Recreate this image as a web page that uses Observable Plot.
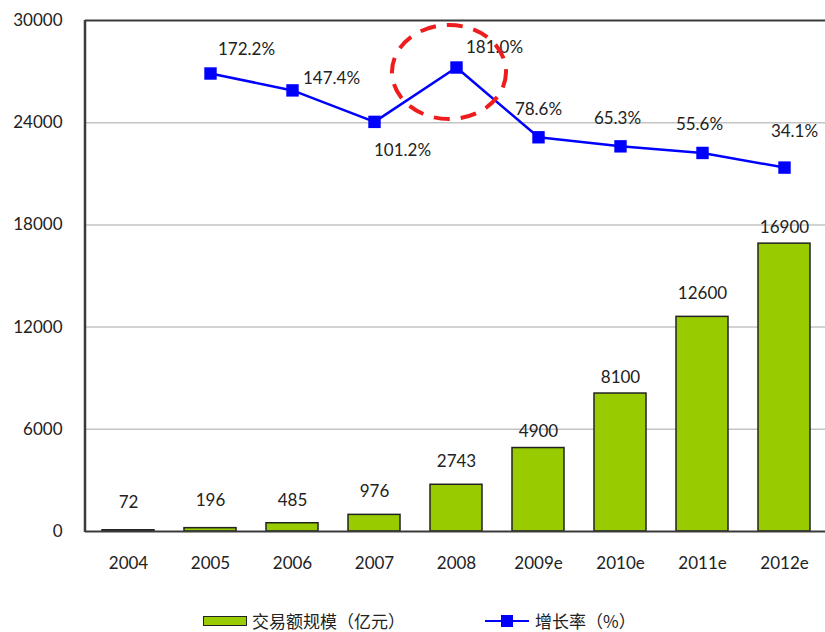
<!DOCTYPE html>
<html>
<head>
<meta charset="utf-8">
<script src="https://cdn.jsdelivr.net/npm/d3@7"></script>
<script src="https://cdn.jsdelivr.net/npm/@observablehq/plot@0.6"></script>
<style>
  html, body { margin: 0; padding: 0; background: #fff; }
  #wrap { position: relative; width: 825px; height: 632px; overflow: hidden; font-family: Lato, "Liberation Sans", sans-serif; color: #222; }
  #legend .txt { position: absolute; font-family: "Noto Sans CJK SC", sans-serif; font-size: 17px; line-height: 20px; color: #222; }
</style>
</head>
<body>
<div id="wrap">
  <div id="chart"></div>
  <div id="legend">
    <div style="position:absolute;left:203px;top:616px;width:42px;height:8px;background:#99cc00;border:1.5px solid #222;"></div>
    <div class="txt" style="left:252px;top:611px;">交易额规模（亿元）</div>
    <svg style="position:absolute;left:483px;top:612px;" width="48" height="18">
      <line x1="2" y1="9" x2="46" y2="9" stroke="#0000ff" stroke-width="2"/>
      <rect x="18" y="3" width="12" height="12" fill="#0000ff"/>
    </svg>
    <div class="txt" style="left:535px;top:611px;">增长率（%）</div>
  </div>
</div>
<script>
// ---- data ----
const years = ["2004", "2005", "2006", "2007", "2008", "2009e", "2010e", "2011e", "2012e"];
const volume = [72, 196, 485, 976, 2743, 4900, 8100, 12600, 16900];
const rateYears = ["2005", "2006", "2007", "2008", "2009e", "2010e", "2011e", "2012e"];
const growth = [172.2, 147.4, 101.2, 181.0, 78.6, 65.3, 55.6, 34.1];
const yTicks = [0, 6000, 12000, 18000, 24000, 30000];
const rateAxisDomain = [-500, 250]; // hidden secondary axis

const bars = years.map((year, i) => ({year, value: volume[i]}));
const rates = rateYears.map((year, i) => ({year, rate: growth[i]}));

const yMax = 30000;
const toLeft = v => (v - rateAxisDomain[0]) / (rateAxisDomain[1] - rateAxisDomain[0]) * yMax;

// label placement (layout only)
const barLabelGroups = [
  {set: ["2004", "2005"], dy: -28},
  {set: ["2006", "2007", "2008", "2011e"], dy: -23},
  {set: ["2009e", "2010e", "2012e"], dy: -16}
];
const rateLabelGroups = [
  {set: ["2005"], dx: 36, dy: -24},
  {set: ["2006"], dx: 39, dy: -12},
  {set: ["2007"], dx: 28, dy: 29},
  {set: ["2008"], dx: 38, dy: -20},
  {set: ["2009e"], dx: 0, dy: -28},
  {set: ["2010e", "2011e"], dx: -3, dy: -28},
  {set: ["2012e"], dx: 10, dy: -36}
];

const fontSize = 17;

const plot = Plot.plot({
  width: 825,
  height: 600,
  marginTop: 20,
  marginBottom: 69,
  marginLeft: 85,
  marginRight: 0,
  style: {fontFamily: "Lato, 'Liberation Sans', sans-serif", fontSize: fontSize + "px", color: "#222", background: "#fff"},
  x: {domain: years, range: [84, 827], paddingInner: 0.37, paddingOuter: 0.185, label: null},
  y: {domain: [0, yMax], range: [531, 20], label: null},
  marks: [
    Plot.ruleY(yTicks.filter(t => t > 0 && t < yMax), {stroke: "#c4c4c4", strokeWidth: 1.5}),
    Plot.barY(bars, {x: "year", y: "value", fill: "#99cc00", stroke: "#222", strokeWidth: 1.5}),
    ...barLabelGroups.map(g => Plot.text(bars.filter(d => g.set.includes(d.year)), {
      x: "year", y: "value", text: d => String(d.value), dy: g.dy, fontSize, fill: "#222"
    })),
    Plot.ruleY([0, yMax], {stroke: "#3a3a3a", strokeWidth: 2}),
    Plot.line(rates, {x: "year", y: d => toLeft(d.rate), stroke: "#0000ff", strokeWidth: 2.5}),
    Plot.dot(rates, {x: "year", y: d => toLeft(d.rate), symbol: "square", r: 7, fill: "#0000ff", stroke: "none"}),
    ...rateLabelGroups.map(g => Plot.text(rates.filter(d => g.set.includes(d.year)), {
      x: "year", y: d => toLeft(d.rate), text: d => d.rate.toFixed(1) + "%", dx: g.dx, dy: g.dy, fontSize, fill: "#222"
    })),
    Plot.axisY({ticks: yTicks, tickSize: 0, tickPadding: 23, fontSize, tickFormat: d => String(d), label: null}),
    Plot.axisX({tickSize: 0, tickPadding: 25, fontSize, label: null})
  ]
});

document.getElementById("chart").appendChild(plot);

// left axis line and highlight ellipse
const svg = d3.select(plot);
const xs = plot.scale("x");
const ys = plot.scale("y");
let xApply, yApply;
if (xs.apply) {
  xApply = v => xs.apply(v);
  yApply = v => ys.apply(v);
} else {
  const bx = d3.scaleBand().domain(xs.domain).range(xs.range).paddingInner(xs.paddingInner).paddingOuter(xs.paddingOuter).align(xs.align ?? 0.5);
  const ly = d3.scaleLinear().domain(ys.domain).range(ys.range);
  xApply = v => bx(v);
  yApply = v => ly(v);
}
const bw = xs.bandwidth ?? 0;
svg.append("line")
  .attr("x1", 85).attr("x2", 85)
  .attr("y1", yApply(yMax)).attr("y2", yApply(0) + 1)
  .attr("stroke", "#3a3a3a").attr("stroke-width", 2.5);

const hi = rates.find(d => d.year === "2008");
const cx = xApply(hi.year) + bw / 2 - 7;
const cy = yApply(toLeft(hi.rate)) + 5;
svg.append("ellipse")
  .attr("cx", cx).attr("cy", cy).attr("rx", 57).attr("ry", 47)
  .attr("fill", "none").attr("stroke", "#ee1c1c").attr("stroke-width", 4)
  .attr("stroke-dasharray", "16 11");
</script>
</body>
</html>
